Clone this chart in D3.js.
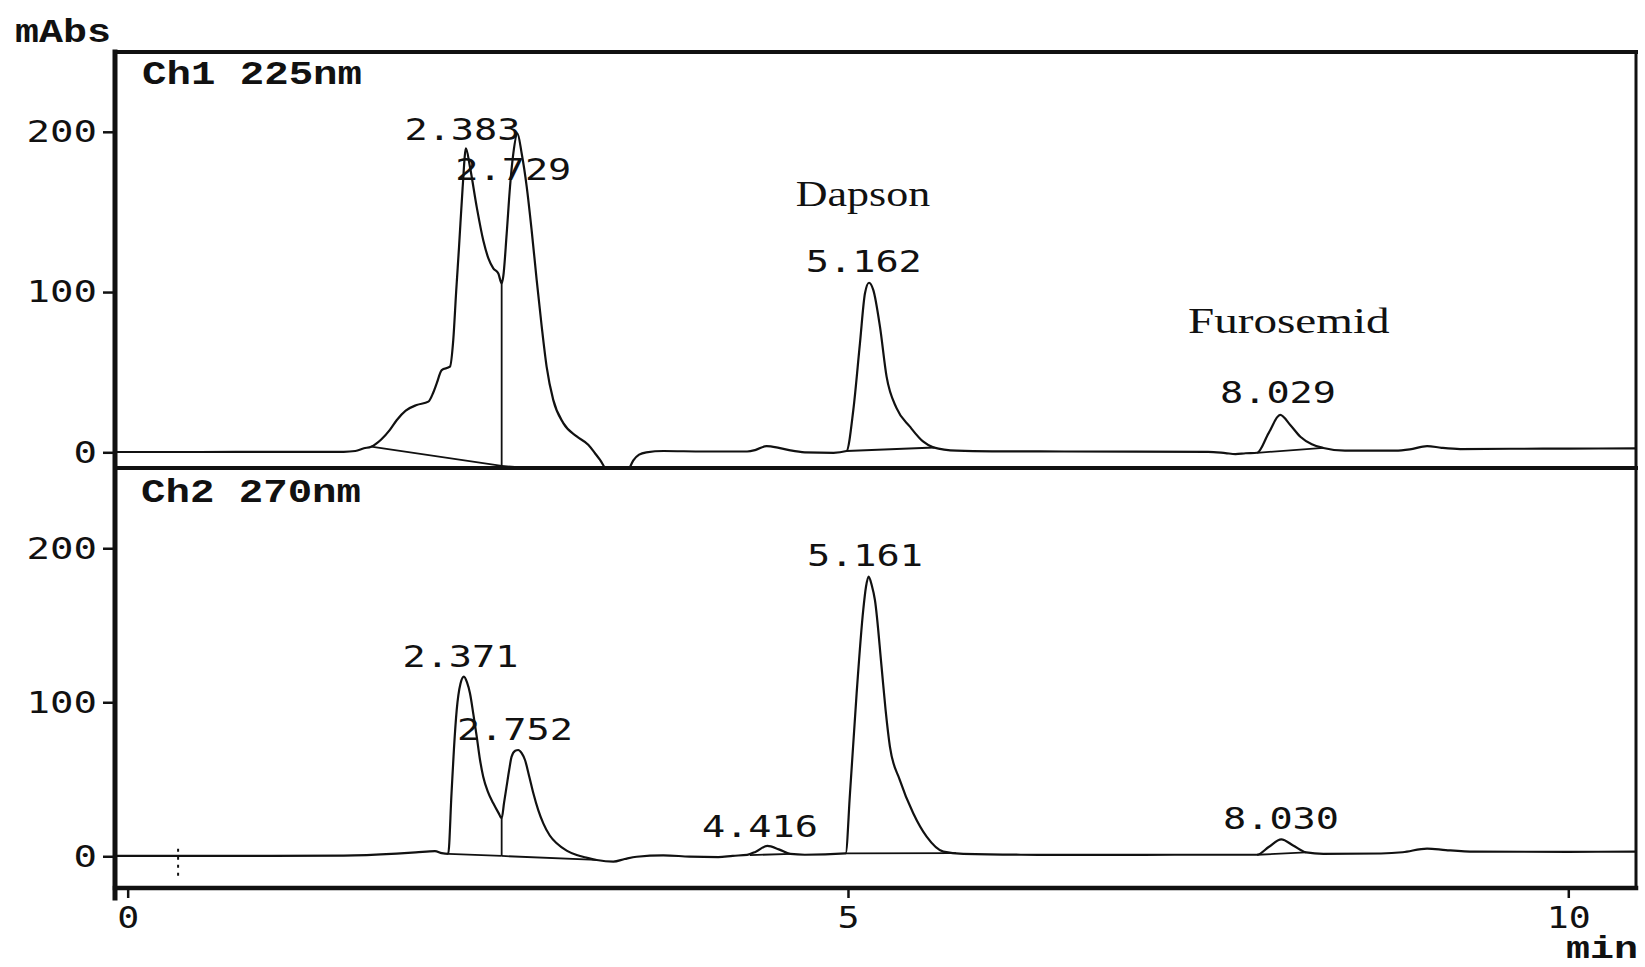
<!DOCTYPE html>
<html><head><meta charset="utf-8">
<script src="https://cdn.jsdelivr.net/npm/d3@7"></script>
<style>html,body{margin:0;padding:0;background:#fff;} svg{display:block;}</style>
</head><body>
<script>
// ---------- data ----------
const timeTicks = [0, 5, 10];
const absTicks = [0, 100, 200];

// Ch1 225nm trace (min, mAbs)
const ch1Time = [-0.09,0.5,1.0,1.5,1.58,1.64,1.69,1.76,1.82,1.867,1.93,2.006,2.087,2.12,2.145,2.18,2.237,2.26,2.28,2.3,2.325,2.348,2.376,2.423,2.469,2.504,2.538,2.573,2.596,2.607,2.631,2.654,2.677,2.705,2.735,2.77,2.804,2.839,2.874,2.908,2.954,3.024,3.117,3.197,3.244,3.279,3.33,3.4,3.47,3.51,3.55,3.6,3.72,4.0,4.3,4.36,4.435,4.52,4.6,4.7,4.9,4.99,5.037,5.083,5.118,5.146,5.176,5.222,5.268,5.338,5.43,5.523,5.592,5.755,6.0,6.5,7.0,7.5,7.62,7.69,7.76,7.84,7.92,8.0,8.07,8.14,8.22,8.3,8.45,8.8,8.9,9.02,9.12,9.25,9.6,10.0,10.47];
const ch1Abs  = [0.2,0.2,0.3,0.3,0.8,2.5,3.5,8,14,20,26,29.5,31.6,37,43,51.3,53.4,70,100,128,165,189.6,178,153,132,121,114.8,111.6,105.4,109.6,136.6,165.7,186.5,199,186.5,165.7,138.7,107.6,78.5,53.5,32.7,18.2,9.9,4.7,-0.6,-4.8,-12,-16,-12,-5,-1.5,0,0.8,0.5,0.5,1.5,3.9,2.8,1.2,0,-0.3,0.8,26.4,68,99.2,105.8,101.2,78.4,47.2,27.4,16,6.6,3.1,1,0.6,0.5,0.4,0.3,-0.5,-1.1,-0.6,-0.3,12,23.3,17,9.7,5,2.7,1,1,1.8,3.9,2.8,2,2.2,2.3,2.5];

// Ch2 270nm trace (min, mAbs)
const ch2Time = [-0.09,0.35,1.0,1.5,1.867,2.0,2.133,2.18,2.225,2.248,2.265,2.284,2.31,2.334,2.355,2.376,2.4,2.423,2.445,2.468,2.5,2.538,2.575,2.596,2.613,2.63,2.648,2.665,2.69,2.711,2.735,2.758,2.787,2.816,2.85,2.885,2.93,2.978,3.05,3.117,3.19,3.256,3.371,3.45,3.533,3.718,3.9,4.1,4.2,4.3,4.36,4.44,4.52,4.6,4.7,4.984,5.014,5.06,5.106,5.125,5.143,5.165,5.187,5.233,5.261,5.291,5.36,5.453,5.546,5.662,5.8,6.2,6.8,7.3,7.7,7.84,7.92,8.008,8.09,8.18,8.3,8.7,8.85,9.02,9.15,9.35,10.0,10.47];
const ch2Abs  = [0.3,0.3,0.3,0.4,1.7,2.5,3.4,2,1.5,40.9,70,95,112,116.6,113,105.8,92,77.7,63,51.7,42,34.4,28,24.7,35,45.2,56,64.7,68.5,69,67,62.5,52,40.9,30,21.4,13.5,8.4,3.5,0.8,-1,-2.4,-3.5,-1.8,-0.3,0.6,-0.2,-0.5,0.3,0.9,3,6.7,4.5,1.5,1,1.9,40.9,105.8,160,175,181.6,176,166.4,123.1,95,71.2,49.5,27.9,12.7,3,1.5,1.0,0.9,1.0,1.0,1.0,6,11,7,2.5,1.6,1.8,2.6,5.0,4.0,3.0,2.9,3.0];

// integration baselines: [t0, v0, t1, v1]
const ch1Baselines = [[1.69,3.5,2.596,-8.5],[2.596,-8.5,3.35,-13.5],[4.99,0.8,5.6,3.0],[7.84,-0.3,8.3,2.7]];
const ch2Baselines = [[2.225,1.5,2.596,0.2],[2.596,0.2,3.256,-2.4],[4.32,0.8,4.61,1.5],[4.984,1.9,5.75,2.0],[7.84,1.0,8.18,2.5]];
// drop lines: [t, top, bottom]
const ch1Drops = [[2.596,105.4,-8.5]];
const ch2Drops = [[2.596,24.7,0.2]];
// injection marker (Ch2)
const ch2Marker = [[0.35,4.9,-15.6]];

// peak labels
const ch1LabelText = ["2.383","2.729","5.162","8.029"];
const ch1LabelTime = [2.324,2.677,5.11,7.985];
const ch1LabelAbs  = [194.8,169.9,112.7,30.8];
const ch2LabelText = ["2.371","2.752","4.416","5.161","8.030"];
const ch2LabelTime = [2.31,2.688,4.389,5.118,8.006];
const ch2LabelAbs  = [122.9,75.5,12.5,188.5,17.7];
// compound names (Ch1)
const nameText = ["Dapson","Furosemid"];
const nameTime = [5.104,8.06];
const nameAbs  = [153.7,74.4];

// ---------- layout ----------
const W = 1645, H = 967;
const F = {left:115, right:1636, top:52, mid:468, bottom:888};
const svg = d3.select("body").append("svg").attr("width",W).attr("height",H);
svg.append("rect").attr("width",W).attr("height",H).attr("fill","#fff");

const x  = d3.scaleLinear().domain([-0.088,10.47]).range([F.left,F.right]);
const y1 = d3.scaleLinear().domain([-9.8,249.8]).range([F.mid,F.top]);
const y2 = d3.scaleLinear().domain([-20.6,252.1]).range([F.bottom,F.mid]);

const ink = "#111";
const sansMono = "'DejaVu Sans Mono', monospace";
const courier = "'Liberation Mono', 'Courier New', monospace";

const defs = svg.append("defs");
defs.append("clipPath").attr("id","c1").append("rect")
  .attr("x",F.left).attr("y",F.top).attr("width",F.right-F.left).attr("height",F.mid-F.top);
defs.append("clipPath").attr("id","c2").append("rect")
  .attr("x",F.left).attr("y",F.mid).attr("width",F.right-F.left).attr("height",F.bottom-F.mid);

function panel(clip, y, time, abs, baselines, drops, labelText, labelTime, labelAbs){
  const g = svg.append("g").attr("clip-path",`url(#${clip})`);
  const pts = time.map((t,i)=>[t,abs[i]]);
  const line = d3.line().x(d=>x(d[0])).y(d=>y(d[1])).curve(d3.curveMonotoneX);
  g.append("path").datum(pts).attr("d",line).attr("fill","none")
    .attr("stroke",ink).attr("stroke-width",2.2).attr("stroke-linejoin","round");
  g.selectAll("line.bl").data(baselines).join("line").attr("class","bl")
    .attr("x1",d=>x(d[0])).attr("y1",d=>y(d[1])).attr("x2",d=>x(d[2])).attr("y2",d=>y(d[3]))
    .attr("stroke",ink).attr("stroke-width",1.8);
  g.selectAll("line.dl").data(drops).join("line").attr("class","dl")
    .attr("x1",d=>x(d[0])).attr("y1",d=>y(d[1])).attr("x2",d=>x(d[0])).attr("y2",d=>y(d[2]))
    .attr("stroke",ink).attr("stroke-width",1.8);
  svg.append("g").selectAll("text").data(labelText).join("text")
    .attr("x",(d,i)=>x(labelTime[i])).attr("y",(d,i)=>y(labelAbs[i]))
    .attr("text-anchor","middle").attr("font-family",sansMono).attr("font-size",31)
    .attr("textLength",116).attr("lengthAdjust","spacingAndGlyphs")
    .attr("fill",ink).text(d=>d);
  return g;
}

const g1 = panel("c1", y1, ch1Time, ch1Abs, ch1Baselines, ch1Drops, ch1LabelText, ch1LabelTime, ch1LabelAbs);
const g2 = panel("c2", y2, ch2Time, ch2Abs, ch2Baselines, ch2Drops, ch2LabelText, ch2LabelTime, ch2LabelAbs);

g2.selectAll("line.mk").data(ch2Marker).join("line").attr("class","mk")
  .attr("x1",d=>x(d[0])).attr("y1",d=>y2(d[1])).attr("x2",d=>x(d[0])).attr("y2",d=>y2(d[2]))
  .attr("stroke",ink).attr("stroke-width",2).attr("stroke-dasharray","3,5");

// compound names
svg.append("g").selectAll("text").data(nameText).join("text")
  .attr("x",(d,i)=>x(nameTime[i])).attr("y",(d,i)=>y1(nameAbs[i]))
  .attr("text-anchor","middle").attr("font-family","'Liberation Serif','Times New Roman',serif")
  .attr("font-size",36).attr("textLength",d=>d.length*22.4).attr("lengthAdjust","spacingAndGlyphs")
  .attr("fill",ink).text(d=>d);

// axes
function styleAxis(sel, charW){
  sel.select(".domain").remove();
  sel.selectAll(".tick line").attr("stroke",ink).attr("stroke-width",2.5);
  sel.selectAll(".tick text").attr("fill",ink).attr("font-family",sansMono).attr("font-size",31)
    .attr("textLength",function(){return this.textContent.length*charW;})
    .attr("lengthAdjust","spacingAndGlyphs");
}
svg.append("g").attr("transform",`translate(${F.left},0)`)
  .call(d3.axisLeft(y1).tickValues(absTicks).tickSize(12).tickPadding(6).tickFormat(d3.format("d")))
  .call(s=>styleAxis(s,23.5));
svg.append("g").attr("transform",`translate(${F.left},0)`)
  .call(d3.axisLeft(y2).tickValues(absTicks).tickSize(12).tickPadding(6).tickFormat(d3.format("d")))
  .call(s=>styleAxis(s,23.5));
svg.append("g").attr("transform",`translate(0,${F.bottom})`)
  .call(d3.axisBottom(x).tickValues(timeTicks).tickSize(10).tickPadding(8).tickFormat(d3.format("d")))
  .call(s=>styleAxis(s,22));

// frame
const frame = svg.append("g").attr("stroke",ink).attr("stroke-linecap","square");
frame.append("line").attr("x1",F.left).attr("y1",F.top).attr("x2",F.right).attr("y2",F.top).attr("stroke-width",4);
frame.append("line").attr("x1",F.left).attr("y1",F.mid).attr("x2",F.right).attr("y2",F.mid).attr("stroke-width",4);
frame.append("line").attr("x1",F.left).attr("y1",F.bottom).attr("x2",F.right).attr("y2",F.bottom).attr("stroke-width",4.5);
frame.append("line").attr("x1",F.left).attr("y1",F.top).attr("x2",F.left).attr("y2",F.bottom+10).attr("stroke-width",5);
frame.append("line").attr("x1",F.right).attr("y1",F.top).attr("x2",F.right).attr("y2",F.bottom).attr("stroke-width",3);

// channel titles and units
function courierText(str, px, py, len, anchor, size){
  svg.append("text").attr("x",px).attr("y",py).attr("text-anchor",anchor||"start")
    .attr("font-family",courier).attr("font-weight","bold").attr("font-size",size||34)
    .attr("textLength",len).attr("lengthAdjust","spacingAndGlyphs").attr("fill",ink).text(str);
}
courierText("mAbs", 15, 42, 96);
courierText("Ch1 225nm", F.left+27, 84, 220);
courierText("Ch2 270nm", F.left+26, 502, 220);
courierText("min", F.right+2, 958, 72, "end", 31);
</script>
</body></html>
